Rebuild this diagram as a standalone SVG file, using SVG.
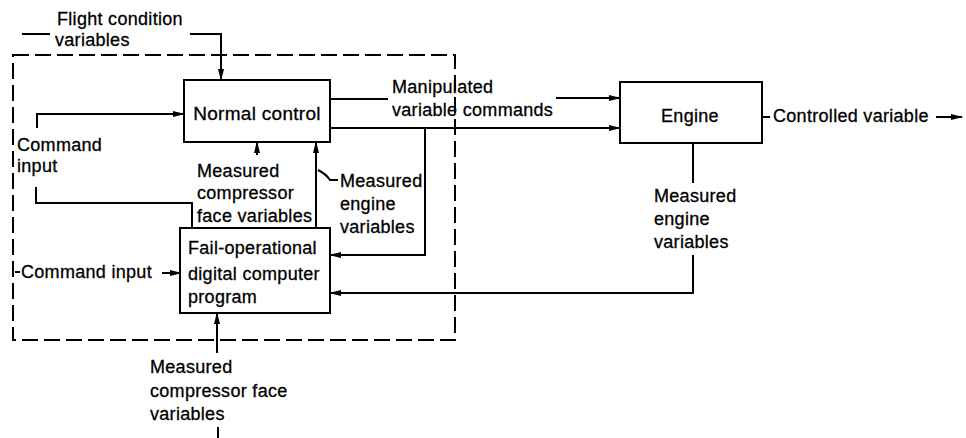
<svg xmlns="http://www.w3.org/2000/svg" width="966" height="438" viewBox="0 0 966 438">
<defs>
<marker id="ah" markerWidth="12" markerHeight="8" refX="11" refY="4" orient="auto" markerUnits="userSpaceOnUse">
<path d="M0,1 L12,4 L0,7 Z" fill="#000"/>
</marker>
<style>
.t{font-family:"Liberation Sans",Arial,sans-serif;font-size:18px;fill:#000;letter-spacing:0.3px;stroke:#000;stroke-width:0.3px}
.b{fill:#fff;stroke:#000;stroke-width:2}
.c{fill:none;stroke:#000;stroke-width:2}
.a{fill:none;stroke:#000;stroke-width:2;marker-end:url(#ah)}
.d{fill:none;stroke:#000;stroke-width:2;stroke-dasharray:16 6}
</style>
</defs>
<rect width="966" height="438" fill="#fff"/>
<g id="boundary">
<rect class="d" x="13" y="55" width="442" height="285"/>
</g>
<g id="connectors">
<path class="c" d="M22,34 H50"/>
<path class="a" d="M190,34 H221 V80"/>
<path class="a" d="M37,128 V114 H184"/>
<path class="c" d="M36,187 V203 H192 V228"/>
<path class="a" d="M257,155 V142"/>
<path class="a" d="M316,228 V142"/>
<path class="c" d="M318,170 Q326,174 330,180 L338,180"/>
<path class="c" d="M330,99 H388"/>
<path class="a" d="M556,98 H620"/>
<path class="a" d="M330,128 H620"/>
<path class="a" d="M425,128 V255 H330"/>
<path class="c" d="M693,143 V183"/>
<path class="a" d="M693,255 V293 H330"/>
<path class="a" d="M162,273 H181"/>
<path class="a" d="M217,353 V313"/>
<path class="c" d="M218,427 V438"/>
<path class="c" d="M763,117 H770"/>
<path class="a" d="M936,117 H962"/>
<path class="c" d="M15,272 H20"/>
</g>
<g id="normal-control">
<rect class="b" x="184" y="80" width="146" height="62"/>
<text class="t" x="257" y="120" text-anchor="middle" style="font-size:19px">Normal control</text>
</g>
<g id="fail-operational">
<rect class="b" x="180" y="228" width="150" height="85"/>
<text class="t" x="188" y="254">Fail-operational</text>
<text class="t" x="188" y="280">digital computer</text>
<text class="t" x="188" y="303">program</text>
</g>
<g id="engine">
<rect class="b" x="620" y="82" width="142" height="61"/>
<text class="t" x="690" y="122" text-anchor="middle">Engine</text>
</g>
<g id="labels">
<text class="t" x="57" y="25">Flight condition</text>
<text class="t" x="55" y="46">variables</text>
<text class="t" x="17" y="151">Command</text>
<text class="t" x="17" y="172">input</text>
<text class="t" x="197" y="177">Measured</text>
<text class="t" x="197" y="199">compressor</text>
<text class="t" x="197" y="222">face variables</text>
<text class="t" x="340" y="187">Measured</text>
<text class="t" x="340" y="210">engine</text>
<text class="t" x="340" y="233">variables</text>
<text class="t" x="392" y="93">Manipulated</text>
<text class="t" x="392" y="116">variable commands</text>
<text class="t" x="654" y="202">Measured</text>
<text class="t" x="654" y="225">engine</text>
<text class="t" x="654" y="248">variables</text>
<text class="t" x="21" y="278">Command input</text>
<text class="t" x="150" y="373">Measured</text>
<text class="t" x="150" y="397">compressor face</text>
<text class="t" x="150" y="420">variables</text>
<text class="t" x="773" y="122">Controlled variable</text>
</g>
</svg>
